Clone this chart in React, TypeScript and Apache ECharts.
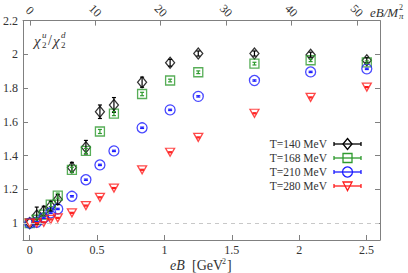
import React, { useEffect, useRef } from "react";
import * as echarts from "echarts";

const eB = [0, 0.052, 0.104, 0.156, 0.208, 0.313, 0.417, 0.521, 0.625, 0.834, 1.042, 1.251, 1.668, 2.085, 2.502];

const t140 = [1.0, 1.045, 1.07, 1.1, 1.14, 1.33, 1.45, 1.66, 1.7, 1.835, 1.95, 2.005, 2.005, 1.998, 1.965];
const t140err = [0.0, 0.05, 0.03, 0.03, 0.03, 0.03, 0.04, 0.04, 0.044, 0.03, 0.02, 0.015, 0.015, 0.015, 0.015];

const t168 = [1.0, 1.02, 1.05, 1.11, 1.163, 1.316, 1.428, 1.543, 1.649, 1.765, 1.845, 1.894, 1.945, 1.965, 1.953];
const t168err = [0.0, 0.01, 0.01, 0.012, 0.015, 0.015, 0.015, 0.012, 0.012, 0.01, 0.008, 0.008, 0.008, 0.008, 0.008];

const t210 = [1.0, 1.005, 1.031, 1.061, 1.084, 1.159, 1.257, 1.345, 1.428, 1.565, 1.671, 1.751, 1.845, 1.896, 1.914];
const t210err = [0.0, 0.004, 0.004, 0.004, 0.004, 0.004, 0.004, 0.004, 0.004, 0.004, 0.004, 0.004, 0.004, 0.004, 0.004];

const t280 = [1.0, 1.0, 1.005, 1.022, 1.031, 1.061, 1.104, 1.153, 1.208, 1.316, 1.42, 1.508, 1.651, 1.745, 1.806];
const t280err = [0.0, 0.003, 0.003, 0.003, 0.003, 0.003, 0.003, 0.003, 0.003, 0.003, 0.003, 0.003, 0.003, 0.003, 0.003];

const labels = ["T=140 MeV", "T=168 MeV", "T=210 MeV", "T=280 MeV"];
const xTicks = [0, 0.5, 1, 1.5, 2, 2.5];
const topTicks = [0, 10, 20, 30, 40, 50];
const yTicks = [1, 1.2, 1.4, 1.6, 1.8, 2, 2.2];

const colors = ["#000000", "#2e9a2e", "#1c1cff", "#ff1c1c"];
const FONT = "Liberation Serif, serif";
const AXIS = "#808080";
const TXT = "#333333";

export default function App() {
  const ref = useRef<HTMLDivElement>(null);
  useEffect(() => {
    if (!ref.current) return;
    const chart = echarts.init(ref.current, undefined, { renderer: "svg" });
    const series: any[] = [];
    const sets = [
      { v: t140, e: t140err, sym: "diamond", size: [9, 11], rot: 0 },
      { v: t168, e: t168err, sym: "rect", size: 9, rot: 0 },
      { v: t210, e: t210err, sym: "circle", size: 10, rot: 0 },
      { v: t280, e: t280err, sym: "triangle", size: [9, 8], rot: 180 },
    ];
    sets.forEach((s, i) => {
      const c = colors[i];
      series.push({
        type: "scatter",
        name: labels[i],
        data: eB.map((x, k) => [x, s.v[k]]),
        symbol: s.sym,
        symbolSize: s.size,
        symbolRotate: s.rot,
        itemStyle: { color: "rgba(255,255,255,0)", borderColor: c, borderWidth: 1.3 },
        z: 3,
        markLine:
          i === 0
            ? {
                silent: true,
                symbol: "none",
                label: { show: false },
                lineStyle: { color: "#c8c8c8", type: [4, 4], width: 1 },
                data: [{ yAxis: 1 }],
              }
            : undefined,
      });
      series.push({
        type: "custom",
        data: eB.map((x, k) => [x, s.v[k], s.e[k]]),
        encode: { x: 0, y: 1 },
        z: 4,
        renderItem: (params: any, api: any) => {
          const x = api.value(0);
          const y = api.value(1);
          const e = api.value(2);
          if (!e) return null;
          const lo = api.coord([x, y - e]);
          const hi = api.coord([x, y + e]);
          const st = { stroke: c, lineWidth: 1.2 };
          return {
            type: "group",
            children: [
              { type: "line", shape: { x1: lo[0], y1: lo[1], x2: hi[0], y2: hi[1] }, style: st },
              { type: "line", shape: { x1: lo[0] - 2, y1: lo[1], x2: lo[0] + 2, y2: lo[1] }, style: st },
              { type: "line", shape: { x1: hi[0] - 2, y1: hi[1], x2: hi[0] + 2, y2: hi[1] }, style: st },
            ],
          };
        },
      });
    });

    const legendY = [144, 158, 172, 186];
    const graphic: any[] = [];
    legendY.forEach((y, i) => {
      const c = colors[i];
      graphic.push({
        type: "text",
        x: 327,
        y: y,
        style: { text: labels[i], align: "right", verticalAlign: "middle", fontFamily: FONT, fontSize: 11.5, fill: TXT },
      });
      const st = { stroke: c, lineWidth: 1.3, fill: null };
      graphic.push({ type: "line", shape: { x1: 334, y1: y, x2: 361, y2: y }, style: st });
      graphic.push({ type: "line", shape: { x1: 334, y1: y - 2, x2: 334, y2: y + 2 }, style: st });
      graphic.push({ type: "line", shape: { x1: 361, y1: y - 2, x2: 361, y2: y + 2 }, style: st });
      const mx = 347.5;
      const ms = { stroke: c, lineWidth: 1.3, fill: "rgba(255,255,255,0)" };
      if (i === 0) graphic.push({ type: "polygon", shape: { points: [[mx, y - 5.5], [mx + 4.5, y], [mx, y + 5.5], [mx - 4.5, y]] }, style: ms });
      if (i === 1) graphic.push({ type: "rect", shape: { x: mx - 4.5, y: y - 4.5, width: 9, height: 9 }, style: ms });
      if (i === 2) graphic.push({ type: "circle", shape: { cx: mx, cy: y, r: 5 }, style: ms });
      if (i === 3) graphic.push({ type: "polygon", shape: { points: [[mx - 4.5, y - 4], [mx + 4.5, y - 4], [mx, y + 4.5]] }, style: ms });
    });
    const t = (x: number, y: number, text: string, size: number, italic: boolean, align = "left") => ({
      type: "text",
      x,
      y,
      style: { text, fontFamily: FONT, fontSize: size, fontStyle: italic ? "italic" : "normal", fill: TXT, verticalAlign: "middle", align },
    });
    // y-axis label chi_2^u / chi_2^d
    const yl = 40;
    graphic.push(t(34, yl + 1, "χ", 15, true));
    graphic.push(t(42, yl - 5, "u", 9, true));
    graphic.push(t(42, yl + 5, "2", 9, false));
    graphic.push(t(48, yl, "/", 14, false));
    graphic.push(t(53, yl + 1, "χ", 15, true));
    graphic.push(t(61, yl - 5, "d", 9, true));
    graphic.push(t(61, yl + 5, "2", 9, false));
    // x-axis label eB [GeV^2]
    graphic.push(t(170, 265, "eB", 14, true));
    graphic.push(t(192, 265, "[GeV", 14, false));
    graphic.push(t(222, 261, "2", 8, false));
    graphic.push(t(227, 265, "]", 14, false));
    // top axis name eB/M_pi^2
    graphic.push(t(370, 12, "eB/M", 13, true));
    graphic.push(t(399, 7, "2", 8, false));
    graphic.push(t(399, 16, "π", 9, true));

    const axisCommon = {
      type: "value",
      axisLine: { show: true, onZero: false, lineStyle: { color: AXIS, width: 1 } },
      axisTick: { show: true, inside: true, length: 5, lineStyle: { color: AXIS } },
      splitLine: { show: false },
    };
    const lab = { color: TXT, fontFamily: FONT, fontSize: 12 };
    chart.setOption({
      animation: false,
      backgroundColor: "#ffffff",
      grid: { left: 22, right: 28, top: 20, bottom: 33 },
      xAxis: [
        {
          ...axisCommon,
          position: "bottom",
          min: -0.05,
          max: 2.6,
          axisTick: { ...axisCommon.axisTick, customValues: xTicks },
          axisLabel: { ...lab, customValues: xTicks, margin: 4, lineHeight: 12 },
        },
        {
          ...axisCommon,
          position: "top",
          min: -1.068,
          max: 53.55,
          axisTick: { ...axisCommon.axisTick, customValues: topTicks },
          axisLabel: { ...lab, customValues: topTicks, rotate: 45, align: "center", verticalAlign: "middle", margin: 10 },
        },
      ],
      yAxis: [
        {
          ...axisCommon,
          position: "left",
          min: 0.9,
          max: 2.2,
          axisTick: { ...axisCommon.axisTick, customValues: yTicks },
          axisLabel: { ...lab, customValues: yTicks, margin: 5 },
        },
        {
          ...axisCommon,
          position: "right",
          min: 0.9,
          max: 2.2,
          axisTick: { ...axisCommon.axisTick, customValues: yTicks },
          axisLabel: { show: false },
        },
      ],
      series,
      graphic,
    });
    return () => chart.dispose();
  }, []);
  return <div ref={ref} style={{ position: "absolute", left: 0, top: 0, width: 408, height: 273 }} />;
}
